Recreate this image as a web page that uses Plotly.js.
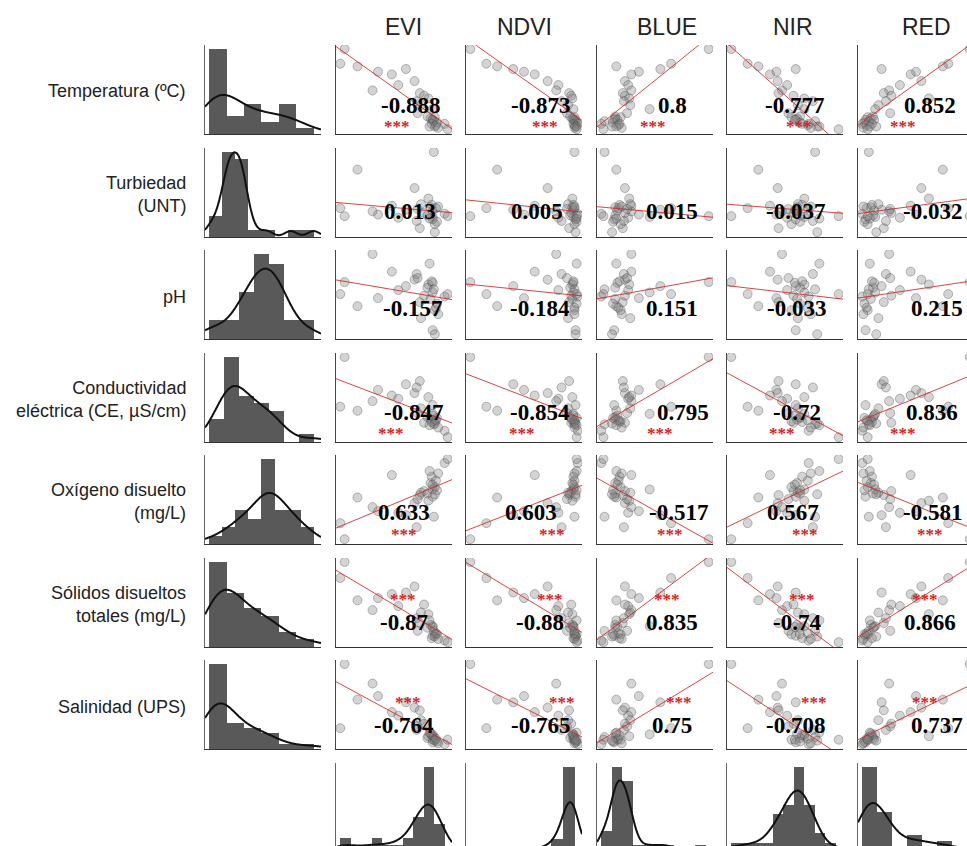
<!DOCTYPE html>
<html><head><meta charset="utf-8">
<script src="https://cdn.plot.ly/plotly-3.0.1.min.js"></script>
<style>html,body{margin:0;padding:0;overflow:hidden;background:#fff;width:967px;height:846px}</style>
</head><body><div id="chart"></div>
<script>
// ---------------- DATA (30 muestras) ----------------
const filaNombres = ["Temperatura (ºC)", "Turbiedad<br>(UNT)", "pH", "Conductividad<br>eléctrica (CE, µS/cm)", "Oxígeno disuelto<br>(mg/L)", "Sólidos disueltos<br>totales (mg/L)", "Salinidad (UPS)"];
const indiceNombres = ["EVI", "NDVI", "BLUE", "NIR", "RED"];

const temperatura = [32.0, 30.9, 30.7, 30.5, 30.3, 30.1, 29.6, 29.3, 28.9, 28.7, 28.5, 28.3, 28.1, 27.8, 27.5, 27.2, 26.95, 26.9, 26.8, 26.7, 26.7, 26.6, 26.5, 26.4, 26.4, 26.3, 26.2, 26.2, 26.1, 26.0];
const turbiedad = [9.0, 13.0, 32.2, 12.2, 9.8, 14.2, 23.0, 8.2, 11.4, 3.0, 10.6, 17.8, 6.6, 15.0, 8.6, 12.6, 9.4, 5.0, 13.4, 7.4, 11.8, 41.0, 6.2, 14.6, 10.2, 13.0, 1.0, 7.8, 13.8, 9.0];
const ph = [7.80, 7.50, 7.20, 7.70, 7.40, 8.06, 7.86, 7.60, 8.50, 7.30, 7.46, 7.74, 8.00, 6.90, 7.54, 7.90, 7.66, 7.10, 7.38, 6.60, 7.78, 7.62, 7.26, 7.82, 7.44, 7.16, 6.50, 8.26, 7.00, 7.50];
const conductividad = [2000, 884, 794, 1388, 1262, 1136, 1190, 1064, 1010, 1460, 524, 1100, 1316, 848, 722, 740, 650, 560, 596, 920, 686, 488, 632, 542, 344, 578, 506, 470, 416, 200];
const oxigeno = [2.50, 3.70, 5.62, 4.30, 4.60, 7.30, 5.20, 4.48, 4.90, 5.80, 6.10, 5.38, 3.40, 5.98, 6.22, 5.50, 5.92, 6.40, 6.70, 5.68, 6.58, 4.18, 6.16, 7.18, 8.20, 6.88, 5.86, 7.60, 7.42, 8.50];
const solidos = [1000, 816, 560, 650, 586, 632, 720, 494, 448, 300, 512, 402, 356, 420, 264, 210, 246, 170, 280, 154, 255, 209, 172, 126, 98, 181, 144, 330, 117, 80];
const salinidad = [1.00, 0.28, 0.60, 0.57, 0.64, 0.46, 0.51, 0.42, 0.78, 0.48, 0.33, 0.19, 0.26, 0.37, 0.21, 0.30, 0.17, 0.15, 0.22, 0.12, 0.15, 0.18, 0.13, 0.20, 0.10, 0.16, 0.14, 0.23, 0.11, 0.15];

const evi = [0.118, 0.100, 0.172, 0.375, 0.258, 0.316, 0.411, 0.343, 0.235, 0.433, 0.451, 0.469, 0.420, 0.438, 0.487, 0.424, 0.465, 0.496, 0.478, 0.487, 0.487, 0.492, 0.505, 0.483, 0.537, 0.501, 0.496, 0.474, 0.510, 0.550];
const ndvi = [0.300, 0.375, 0.425, 0.500, 0.550, 0.600, 0.660, 0.710, 0.700, 0.760, 0.770, 0.775, 0.725, 0.755, 0.780, 0.750, 0.765, 0.785, 0.775, 0.790, 0.780, 0.785, 0.795, 0.780, 0.800, 0.785, 0.790, 0.795, 0.785, 0.795];
const blue = [0.1000, 0.0720, 0.0312, 0.0640, 0.0480, 0.0424, 0.0376, 0.0400, 0.0424, 0.0360, 0.0376, 0.0408, 0.0368, 0.0416, 0.0560, 0.0392, 0.0304, 0.0344, 0.0304, 0.0296, 0.0320, 0.0224, 0.0288, 0.0336, 0.0200, 0.0328, 0.0280, 0.0312, 0.0352, 0.0216];
const nir = [0.150, 0.188, 0.213, 0.300, 0.255, 0.240, 0.258, 0.280, 0.268, 0.260, 0.295, 0.320, 0.340, 0.305, 0.320, 0.283, 0.310, 0.290, 0.303, 0.300, 0.298, 0.345, 0.310, 0.315, 0.330, 0.328, 0.350, 0.355, 0.335, 0.400];
const red = [0.120, 0.100, 0.095, 0.038, 0.070, 0.065, 0.075, 0.055, 0.045, 0.040, 0.047, 0.082, 0.042, 0.035, 0.032, 0.046, 0.030, 0.025, 0.028, 0.023, 0.031, 0.026, 0.022, 0.029, 0.020, 0.024, 0.033, 0.027, 0.021, 0.025];

// correlaciones impresas (filas: variables de agua; columnas: EVI, NDVI, BLUE, NIR, RED)
const correlaciones = [
  [-0.888, -0.873, 0.8, -0.777, 0.852],
  [0.013, 0.005, 0.015, -0.037, -0.032],
  [-0.157, -0.184, 0.151, -0.033, 0.215],
  [-0.847, -0.854, 0.795, -0.72, 0.836],
  [0.633, 0.603, -0.517, 0.567, -0.581],
  [-0.87, -0.88, 0.835, -0.74, 0.866],
  [-0.764, -0.765, 0.75, -0.708, 0.737]
];
const significancia = ["***", "", "", "***", "***", "***", "***"];

// ---------------- LAYOUT CONFIG ----------------
const filas = [temperatura, turbiedad, ph, conductividad, oxigeno, solidos, salinidad];
const indices = [evi, ndvi, blue, nir, red];
const binsFila = [6, 8, 7, 7, 8, 6, 6];
const binsIndice = [10, 9, 10, 10, 7];

const W = 976, H = 856;
const colLeft = [205, 336, 466, 597, 727, 858], colW = 116;
const rowTop = [45, 148, 250, 353, 455, 558, 660, 763], rowH = 89;
const numX = [[0.64,0.64,0.65,0.58,0.62],[0.64,0.61,0.65,0.59,0.64],[0.66,0.64,0.65,0.60,0.68],[0.67,0.64,0.74,0.60,0.64],[0.59,0.56,0.70,0.57,0.64],[0.59,0.64,0.65,0.60,0.62],[0.59,0.64,0.65,0.59,0.68]];
const numY = [0.32, 0.29, 0.34, 0.33, 0.35, 0.28, 0.26];
const starX = [[0.53,0.68,0.48,0.62,0.39],null,null,[0.47,0.48,0.54,0.47,0.39],[0.59,0.74,0.63,0.67,0.62],[0.58,0.72,0.60,0.65,0.58],[0.62,0.83,0.71,0.75,0.58]];
const starY = [0.08, 0, 0, 0.10, 0.11, 0.53, 0.52];
const titleX = [403, 524, 667, 793, 926];

const traces = [], annotations = [];
const layout = {width: W, height: H, margin: {l:0, r:0, t:0, b:0}, showlegend: false,
  paper_bgcolor: '#fff', plot_bgcolor: '#fff', bargap: 0, annotations: annotations};
let k = 0;
function newAxes(c, r, xr, yr, ylc) {
  k += 1;
  const xs = k === 1 ? '' : String(k);
  const base = {showgrid:false, zeroline:false, showticklabels:false, ticks:'', showline:true, linewidth:1.4, fixedrange:true};
  layout['xaxis' + xs] = Object.assign({}, base, {linecolor:'#333', domain:[colLeft[c]/W, (colLeft[c]+colW)/W], range: xr, anchor: 'y' + xs});
  layout['yaxis' + xs] = Object.assign({}, base, {linecolor: ylc || '#444', domain:[1-(rowTop[r]+rowH)/H, 1-rowTop[r]/H], range: yr, anchor: 'x' + xs});
  return {x: 'x' + xs, y: 'y' + xs};
}
function ext(a) { return [Math.min(...a), Math.max(...a)]; }
function mean(a) { return a.reduce((s,v)=>s+v,0)/a.length; }
function sd(a) { const m = mean(a); return Math.sqrt(a.reduce((s,v)=>s+(v-m)*(v-m),0)/(a.length-1)); }
function quant(a, p) { const s = [...a].sort((x,y)=>x-y); const h = (s.length-1)*p; const lo = Math.floor(h); return s[lo] + (h-lo)*((s[lo+1]===undefined?s[lo]:s[lo+1]) - s[lo]); }
function bwNrd0(a) { const lo = Math.min(sd(a), (quant(a,0.75)-quant(a,0.25))/1.34); return 0.9*lo*Math.pow(a.length, -0.2); }

function histPanel(vals, nb, c, r) {
  const [mn, mx] = ext(vals), span = mx - mn, size = span / nb;
  const counts = new Array(nb).fill(0);
  vals.forEach(v => { counts[Math.min(nb-1, Math.floor((v-mn)/size + 1e-9))] += 1; });
  const centers = counts.map((_, i) => mn + size*(i+0.5));
  const xr = [mn - 0.04*span, mx + 0.07*span];
  const ax = newAxes(c, r, xr, [0, Math.max(...counts)*1.05], '#666');
  traces.push({type:'bar', x: centers, y: counts, width: counts.map(()=>size), xaxis: ax.x, yaxis: ax.y,
    marker: {color:'#595959', line:{width:0}}, hoverinfo:'skip'});
  const bw = bwNrd0(vals) * 1.3, gx = [], gy = [];
  for (let i = 0; i <= 200; i++) {
    const x = xr[0] + (xr[1]-xr[0])*i/200; let d = 0;
    vals.forEach(v => { const z = (x-v)/bw; d += Math.exp(-0.5*z*z); });
    gx.push(x); gy.push(d/(vals.length*bw*Math.sqrt(2*Math.PI)) * vals.length * size);
  }
  traces.push({type:'scatter', mode:'lines', x: gx, y: gy, xaxis: ax.x, yaxis: ax.y,
    line:{color:'#111', width:2, shape:'spline'}, hoverinfo:'skip', cliponaxis:true});
}

function scatterPanel(xv, yv, c, r, rv, ri, ci) {
  const [x0, x1] = ext(xv), [y0, y1] = ext(yv);
  const xr = [x0 - 0.04*(x1-x0), x1 + 0.04*(x1-x0)], yr = [y0 - 0.06*(y1-y0), y1 + 0.05*(y1-y0)];
  const ax = newAxes(c, r, xr, yr);
  traces.push({type:'scatter', mode:'markers', x: xv, y: yv, xaxis: ax.x, yaxis: ax.y, hoverinfo:'skip',
    marker:{size:9, color:'rgba(125,125,125,0.33)', line:{color:'rgba(70,70,70,0.45)', width:0.8}}});
  const mx = mean(xv), my = mean(yv);
  let sxy = 0, sxx = 0;
  xv.forEach((v,i) => { sxy += (v-mx)*(yv[i]-my); sxx += (v-mx)*(v-mx); });
  const b = sxy/sxx, a = my - b*mx;
  traces.push({type:'scatter', mode:'lines', x: xr, y: xr.map(x => a + b*x), xaxis: ax.x, yaxis: ax.y,
    hoverinfo:'skip', line:{color:'rgba(215,35,35,0.85)', width:1}});
  annotations.push({xref: ax.x + ' domain', yref: ax.y + ' domain', x: numX[ri][ci], y: numY[ri], xanchor:'center', yanchor:'middle', showarrow:false,
    text: '<b>' + String(rv) + '</b>', font:{family:'Liberation Serif, Times New Roman, serif', size:23, color:'#000'}});
  if (significancia[ri]) {
    annotations.push({xref: ax.x + ' domain', yref: ax.y + ' domain', x: starX[ri][ci], y: starY[ri], xanchor:'center', yanchor:'middle', showarrow:false,
      text: '<b>' + significancia[ri] + '</b>', font:{family:'Liberation Serif, Times New Roman, serif', size:17, color:'#d41f1f'}});
  }
}

filas.forEach((vals, r) => {
  histPanel(vals, binsFila[r], 0, r);
  indices.forEach((iv, c) => scatterPanel(iv, vals, c+1, r, correlaciones[r][c], r, c));
  annotations.push({xref:'paper', yref:'paper', x: 188/W, y: 1-(rowTop[r]+rowH/2+2)/H, xanchor:'right', yanchor:'middle', align:'right',
    showarrow:false, text: filaNombres[r], font:{family:'Liberation Sans, Arial, sans-serif', size:18, color:'#222'}});
});
indices.forEach((iv, c) => {
  histPanel(iv, binsIndice[c], c+1, 7);
  annotations.push({xref:'paper', yref:'paper', x: titleX[c]/W, y: 1-27/H, xanchor:'center', yanchor:'middle',
    showarrow:false, text: indiceNombres[c], font:{family:'Liberation Sans, Arial, sans-serif', size:23, color:'#222'}});
});

Plotly.newPlot('chart', traces, layout, {staticPlot:true, displayModeBar:false});
</script></body></html>
